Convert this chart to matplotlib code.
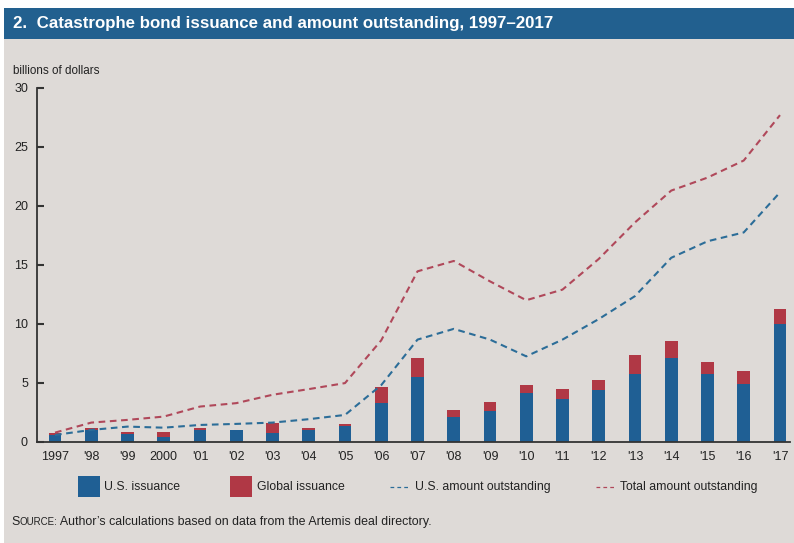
import matplotlib
matplotlib.use("Agg")
import matplotlib.pyplot as plt
from matplotlib.patches import Rectangle
from matplotlib.lines import Line2D
import numpy as np

plt.rcParams['font.family'] = ['Liberation Sans', 'DejaVu Sans']

# ---- data (billions of dollars) ----
year_labels = ['1997', "'98", "'99", '2000', "'01", "'02", "'03", "'04", "'05", "'06",
               "'07", "'08", "'09", "'10", "'11", "'12", "'13", "'14", "'15", "'16", "'17"]
us_issuance = [0.57, 0.95, 0.66, 0.43, 1.00, 0.95, 0.77, 1.00, 1.36, 3.32,
               5.45, 2.13, 2.64, 4.09, 3.61, 4.35, 5.71, 7.10, 5.74, 4.89, 10.00]
total_issuance = [0.77, 1.14, 0.85, 0.80, 1.14, 1.00, 1.62, 1.19, 1.51, 4.68,
                  7.07, 2.70, 3.35, 4.83, 4.43, 5.26, 7.36, 8.52, 6.76, 6.02, 11.28]
us_outstanding = [0.57, 1.00, 1.28, 1.19, 1.42, 1.51, 1.62, 1.91, 2.27, 4.80,
                  8.66, 9.57, 8.66, 7.24, 8.66, 10.40, 12.35, 15.60, 17.00, 17.75, 21.15]
total_outstanding = [0.77, 1.62, 1.85, 2.13, 2.98, 3.27, 3.98, 4.46, 4.97, 8.60,
                     14.45, 15.33, 13.60, 12.00, 12.90, 15.50, 18.60, 21.30, 22.40, 23.85, 27.70]
y_ticks = [0, 5, 10, 15, 20, 25, 30]

# ---- styles ----
BG = '#dedad7'
TITLE_BG = '#22608f'
BLUE = '#1f5f94'
RED = '#b03845'
LINE_BLUE = '#2c6d98'
LINE_RED = '#b0485a'
TXT = '#222222'

W, H = 794, 543
fig = plt.figure(figsize=(W / 100, H / 100), dpi=100)
fig.patch.set_facecolor('white')

def fx(px):
    return px / W

def fy(py):
    return 1 - py / H

# gray panel and title bar
fig.add_artist(Rectangle((fx(4), 0), 1, fy(39), transform=fig.transFigure,
                         facecolor=BG, edgecolor='none', zorder=0))
fig.add_artist(Rectangle((fx(4), fy(39)), 1, (39 - 8) / H, transform=fig.transFigure,
                         facecolor=TITLE_BG, edgecolor='none', zorder=0))
fig.text(fx(13), fy(23.5), "2.  Catastrophe bond issuance and amount outstanding, 1997\u20132017",
         color='white', fontsize=12.2, fontweight='bold', va='center', ha='left')

# axes
ax_left, ax_right = 37, 790
y0_px, y30_px = 441.7, 88
ax = fig.add_axes([fx(ax_left), fy(y0_px), (ax_right - ax_left) / W, (y0_px - y30_px) / H])
ax.set_facecolor('none')

x = np.arange(len(year_labels))
us = np.array(us_issuance)
tot = np.array(total_issuance)
bw = 0.35
ax.bar(x, us, width=bw, color=BLUE, zorder=2)
ax.bar(x, tot - us, bottom=us, width=bw, color=RED, zorder=2)
ax.plot(x, us_outstanding, color=LINE_BLUE, lw=1.5, dashes=(3.2, 2.2), zorder=3)
ax.plot(x, total_outstanding, color=LINE_RED, lw=1.5, dashes=(3.2, 2.2), zorder=3)

px_per_year = (780 - 55) / 20
ax.set_xlim(-(55 - ax_left) / px_per_year, 20 + (ax_right - 780) / px_per_year)
ax.set_ylim(0, 30)
ax.set_yticks(y_ticks)
ax.set_xticks(x)
ax.set_xticklabels(year_labels)

for s in ['top', 'right']:
    ax.spines[s].set_visible(False)
for s in ['left', 'bottom']:
    ax.spines[s].set_color('#333333')
    ax.spines[s].set_linewidth(1.3)
ax.tick_params(axis='y', direction='in', length=5, width=1.5, colors='#333333',
               labelsize=9, labelcolor=TXT, pad=6.5)
ax.tick_params(axis='x', length=0, labelsize=9, labelcolor=TXT, pad=7)

fig.text(fx(13), fy(71), "billions of dollars", fontsize=8.4, color=TXT, va='center', ha='left')

# legend
ly = 487
fs_leg = 8.8
fig.add_artist(Rectangle((fx(78), fy(497)), 22 / W, 21 / H, transform=fig.transFigure,
                         facecolor=BLUE, edgecolor='none'))
fig.text(fx(104), fy(ly), "U.S. issuance", fontsize=fs_leg, color=TXT, va='center')
fig.add_artist(Rectangle((fx(230), fy(497)), 22 / W, 21 / H, transform=fig.transFigure,
                         facecolor=RED, edgecolor='none'))
fig.text(fx(257), fy(ly), "Global issuance", fontsize=fs_leg, color=TXT, va='center')
fig.add_artist(Line2D([fx(390), fx(410)], [fy(ly), fy(ly)], transform=fig.transFigure,
                      color=LINE_BLUE, lw=0.9, dashes=(3, 2.5)))
fig.text(fx(415), fy(ly), "U.S. amount outstanding", fontsize=fs_leg, color=TXT, va='center')
fig.add_artist(Line2D([fx(596), fx(616)], [fy(ly), fy(ly)], transform=fig.transFigure,
                      color=LINE_RED, lw=0.9, dashes=(3, 2.5)))
fig.text(fx(620), fy(ly), "Total amount outstanding", fontsize=fs_leg, color=TXT, va='center')

# source line with small caps
fig.canvas.draw()
r = fig.canvas.get_renderer()
sy = fy(525)
t1 = fig.text(fx(11), sy, "S", fontsize=8.9, color=TXT, va='baseline')
e = t1.get_window_extent(r)
t2 = fig.text(e.x1 / W, sy, "OURCE:", fontsize=7, color=TXT, va='baseline')
e2 = t2.get_window_extent(r)
fig.text(e2.x1 / W, sy, " Author\u2019s calculations based on data from the Artemis deal directory.",
         fontsize=8.9, color=TXT, va='baseline')

fig.savefig('out.png', dpi=100, facecolor=fig.get_facecolor())
